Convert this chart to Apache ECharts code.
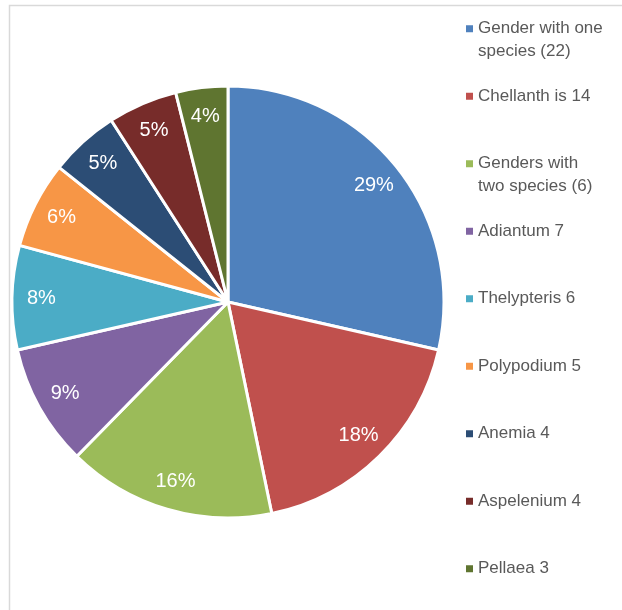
<!DOCTYPE html>
<html>
<head>
<meta charset="utf-8">
<script src="https://cdn.jsdelivr.net/npm/echarts@6/dist/echarts.min.js"></script>
<style>
html,body{margin:0;padding:0;background:#fff;}
#c{width:622px;height:610px;}
</style>
</head>
<body>
<div id="c"></div>
<script>
const categories = [
  "Gender with one species (22)",
  "Chellanth is 14",
  "Genders with two species (6)",
  "Adiantum 7",
  "Thelypteris 6",
  "Polypodium 5",
  "Anemia 4",
  "Aspelenium 4",
  "Pellaea 3"
];
const values = [22, 14, 12, 7, 6, 5, 4, 4, 3];
const legendLines = [
  ["Gender with one", "species (22)"],
  ["Chellanth is 14", ""],
  ["Genders with", "two species (6)"],
  ["Adiantum 7", ""],
  ["Thelypteris 6", ""],
  ["Polypodium 5", ""],
  ["Anemia 4", ""],
  ["Aspelenium 4", ""],
  ["Pellaea 3", ""]
];
const colors = ["#4F81BD", "#C0504D", "#9BBB59", "#8064A2", "#4BACC6", "#F79646", "#2C4D75", "#772C2A", "#5F7530"];

const data = categories.map((n, i) => ({ name: n, value: values[i] }));
const R = 216;

const chart = echarts.init(document.getElementById('c'), null, { renderer: 'canvas' });
chart.setOption({
  animation: false,
  color: colors,
  graphic: [{
    type: 'rect',
    shape: { x: 9.5, y: 5.5, width: 800, height: 800 },
    style: { fill: 'none', stroke: '#d9d9d9', lineWidth: 1.5 },
    silent: true
  }],
  legend: {
    orient: 'vertical',
    left: 466,
    top: -5,
    padding: 0,
    itemGap: 0,
    itemWidth: 7,
    itemHeight: 7,
    icon: 'rect',
    selectedMode: false,
    itemStyle: { borderWidth: 0 },
    data: categories,
    formatter: function (name) {
      const l = legendLines[categories.indexOf(name)];
      return "\n" + l[0] + "\n" + l[1];
    },
    textStyle: {
      fontFamily: 'Liberation Sans',
      fontSize: 17,
      lineHeight: 22.5,
      color: '#595959'
    }
  },
  series: [{
    type: 'pie',
    center: [228, 302],
    radius: [0, R],
    startAngle: 90,
    clockwise: true,
    silent: true,
    percentPrecision: 0,
    itemStyle: { borderColor: '#fff', borderWidth: 3 },
    label: { show: false },
    labelLine: { show: false },
    data: data
  }, {
    type: 'pie',
    center: [228, 302],
    radius: [R * 0.7, R],
    startAngle: 90,
    clockwise: true,
    silent: true,
    percentPrecision: 0,
    legendHoverLink: false,
    itemStyle: { color: 'rgba(0,0,0,0)', borderWidth: 0 },
    label: {
      show: true,
      position: 'inside',
      formatter: '{d}%',
      color: '#fff',
      fontFamily: 'Liberation Sans',
      fontSize: 20
    },
    labelLine: { show: false },
    data: data
  }]
});
</script>
</body>
</html>
